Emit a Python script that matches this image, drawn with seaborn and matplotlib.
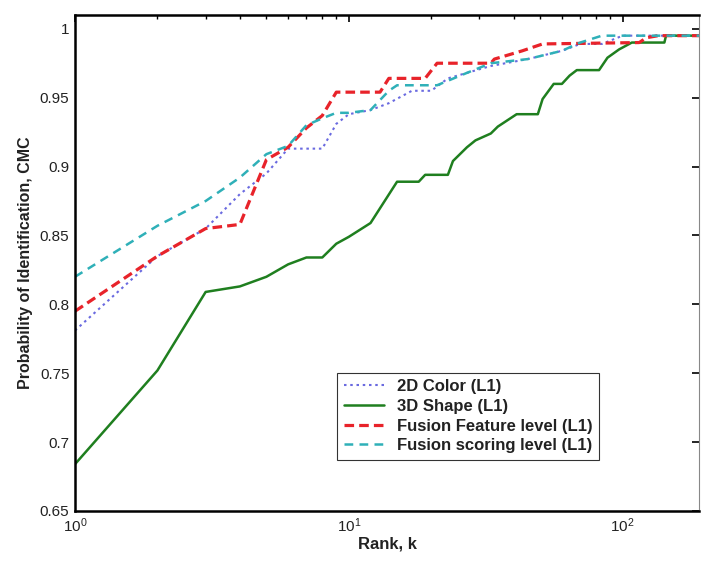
import numpy as np
import pandas as pd
import matplotlib
matplotlib.use("Agg")
import matplotlib.pyplot as plt
import seaborn as sns
from matplotlib.ticker import LogLocator, FixedLocator

# ---- data ----
rank_color = [1, 2, 3, 4, 5, 6, 7, 8, 9, 10, 12, 14, 17, 20, 23, 27, 33, 45, 60, 70, 84, 100, 190]
color_2d = [0.781, 0.835, 0.855, 0.880, 0.895, 0.913, 0.913, 0.913, 0.931, 0.938, 0.941, 0.946,
            0.955, 0.955, 0.964, 0.968, 0.973, 0.978, 0.984, 0.989, 0.989, 0.995, 0.995]

rank_shape = [1, 2, 3, 4, 5, 6, 7, 8, 9, 10, 12, 15, 18, 19, 23, 24, 27, 29, 33, 35, 41, 49, 51,
              56, 60, 64, 68, 82, 88, 97, 108, 142, 144, 190]
shape_3d = [0.684, 0.752, 0.809, 0.813, 0.820, 0.829, 0.834, 0.834, 0.844, 0.849, 0.859, 0.889,
            0.889, 0.894, 0.894, 0.904, 0.914, 0.919, 0.924, 0.929, 0.938, 0.938, 0.949, 0.960,
            0.960, 0.966, 0.970, 0.970, 0.979, 0.985, 0.990, 0.990, 0.995, 0.995]

rank_feat = [1, 2, 3, 4, 5, 6, 7, 8, 9, 13, 14, 19, 21, 33, 34, 43, 51, 115, 122, 135, 190]
fusion_feat = [0.795, 0.835, 0.855, 0.858, 0.905, 0.914, 0.928, 0.937, 0.954, 0.954, 0.964, 0.964,
               0.975, 0.975, 0.978, 0.984, 0.989, 0.990, 0.9935, 0.995, 0.995]

rank_score = [1, 2, 3, 4, 5, 6, 7, 8, 9, 10, 12, 14, 15, 21, 27, 33, 45, 60, 70, 84, 190]
fusion_score = [0.820, 0.857, 0.875, 0.892, 0.909, 0.915, 0.930, 0.935, 0.939, 0.939, 0.941, 0.955,
                0.959, 0.959, 0.968, 0.975, 0.978, 0.984, 0.990, 0.995, 0.995]

labels = ["2D Color (L1)", "3D Shape (L1)", "Fusion Feature level (L1)", "Fusion scoring level (L1)"]
yticks = [0.65, 0.7, 0.75, 0.8, 0.85, 0.9, 0.95, 1.0]
ytick_labels = ["0.65", "0.7", "0.75", "0.8", "0.85", "0.9", "0.95", "1"]

# ---- plotting ----
sns.set_theme(style="white")
plt.rcParams["font.family"] = ["Liberation Sans", "DejaVu Sans"]
plt.rcParams["mathtext.fontset"] = "custom"
plt.rcParams["mathtext.rm"] = "Liberation Sans"

fig = plt.figure(figsize=(7.02, 5.61), dpi=100)
ax = fig.add_axes([75 / 702, 1 - 511 / 561, 624 / 702, 496 / 561])

series = [
    (rank_color, color_2d, dict(color="#6a6ae0", linestyle=(0, (1.2, 1.8)), linewidth=1.5)),
    (rank_shape, shape_3d, dict(color="#1f7f1f", linestyle="-", linewidth=1.8)),
    (rank_feat, fusion_feat, dict(color="#e8232a", linestyle=(0, (3.0, 1.6)), linewidth=2.3)),
    (rank_score, fusion_score, dict(color="#2fb0b8", linestyle=(0, (3.5, 2.5)), linewidth=1.8)),
]
for (xr, yv, st), lab in zip(series, labels):
    df = pd.DataFrame({"rank": xr, "cmc": yv})
    sns.lineplot(data=df, x="rank", y="cmc", ax=ax, estimator=None, sort=False,
                 label=lab, **st)

ax.set_xscale("log")
ax.set_xlim(1, 190)
ax.set_ylim(0.65, 1.01)
ax.yaxis.set_major_locator(FixedLocator(yticks))
ax.set_yticklabels(ytick_labels)
ax.xaxis.set_major_locator(LogLocator(base=10, numticks=10))
ax.xaxis.set_minor_locator(LogLocator(base=10, subs=np.arange(2, 10), numticks=20))

ax.tick_params(axis="both", which="both", direction="in", top=True, right=True,
               labelsize=11, colors="black")
ax.tick_params(axis="both", which="major", length=5, width=1.2, pad=4)
ax.tick_params(axis="x", which="minor", length=3, width=1.0)
for lab in ax.get_xticklabels() + ax.get_yticklabels():
    lab.set_color("#222222")

for side, sp in ax.spines.items():
    sp.set_visible(True)
    sp.set_color("black")
    sp.set_linewidth(1.8)
ax.spines["right"].set_linewidth(0.8)
ax.spines["right"].set_color("#888888")

ax.set_xlabel("Rank, k", fontsize=12, fontweight="bold", color="#222222", labelpad=1)
ax.set_ylabel("Probability of Identification, CMC", fontsize=11.5, fontweight="bold",
              color="#222222", labelpad=5)

leg = ax.legend(loc="lower left", bbox_to_anchor=(0.42, 0.103), borderaxespad=0,
                fontsize=12, frameon=True, fancybox=False, edgecolor="black",
                handlelength=2.4, handletextpad=0.8, labelspacing=0.28, borderpad=0.4)
leg.get_frame().set_linewidth(0.8)
for t in leg.get_texts():
    t.set_fontweight("bold")
    t.set_color("#222222")

fig.savefig("out.png", dpi=100)
